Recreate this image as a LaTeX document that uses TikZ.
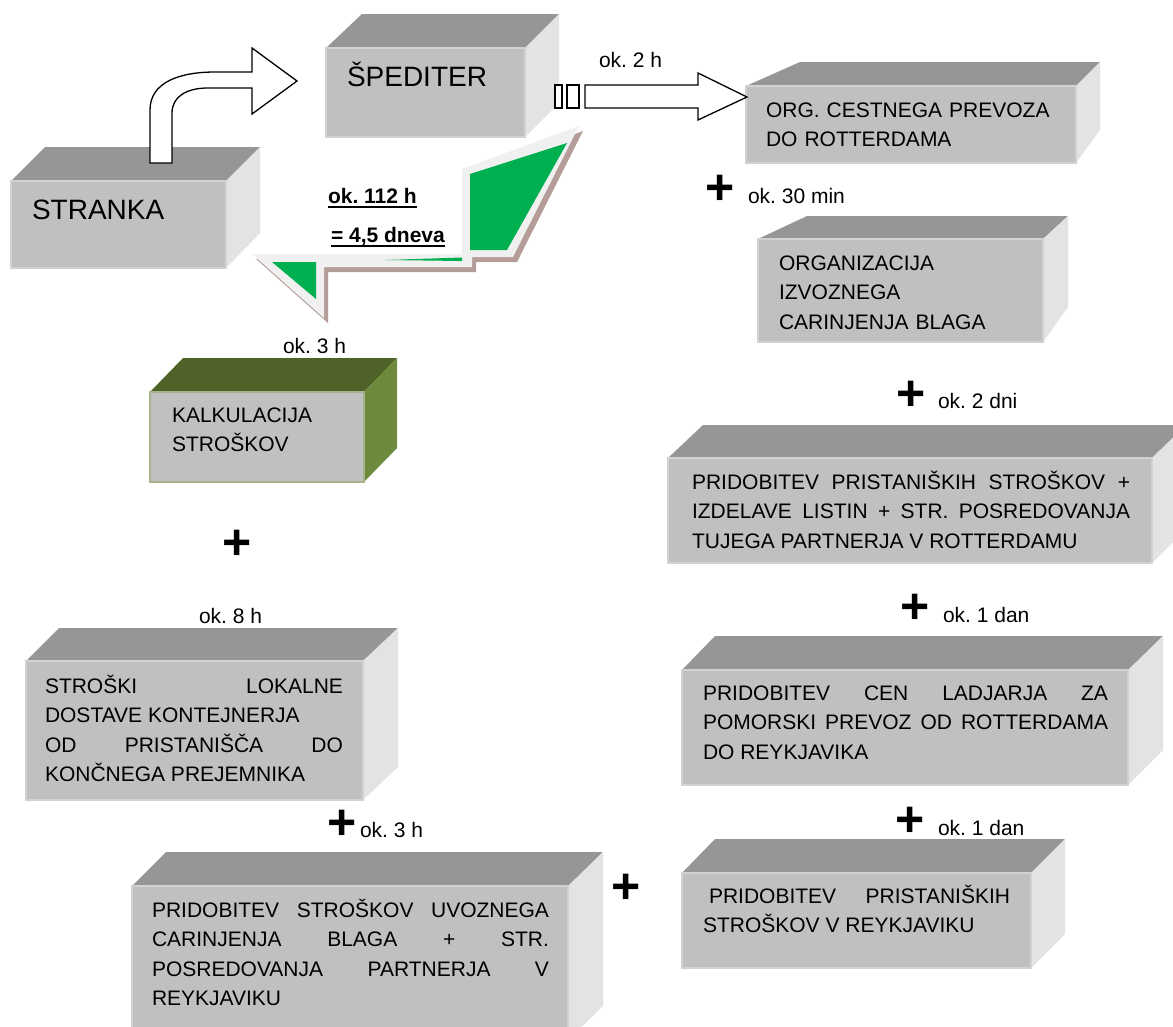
\documentclass[tikz,border=0pt]{standalone}
\usepackage{fontspec}
\setmainfont{Liberation Sans}
\usepackage{xcolor}
\usepackage{tikz}
\usetikzlibrary{calc}
\frenchspacing

\definecolor{boxfront}{HTML}{C0C0C0}
\definecolor{boxtop}{HTML}{969696}
\definecolor{boxside}{HTML}{E3E3E3}
\definecolor{boxedge}{HTML}{D2D2D2}
\definecolor{olivetop}{HTML}{4F6228}
\definecolor{oliveside}{HTML}{6E8B3D}
\definecolor{oliveedge}{HTML}{A4B38C}
\definecolor{boltgreen}{HTML}{00B050}
\definecolor{boltframe}{HTML}{F0F0F0}
\definecolor{boltshadow}{HTML}{B49C98}

% thick underline for the total time
\newcommand{\thickul}[1]{\setbox0=\hbox{#1}\rlap{\rule[-5pt]{\wd0}{2.5pt}}\box0}

% 3-D box: name, front x1, y1, x2, y2, back shift left, back shift right, top dy, bottom dy
\newcommand{\cubebox}[9]{%
    \coordinate (#1-nw) at (#2,#3);
    \coordinate (#1-se) at (#4,#5);
    \coordinate (#1-ne) at (#4,#3);
    \fill[cubetop] (#1-nw) -- ++(#6,#8) -- ($(#1-ne)+(#7,#8)$) -- (#1-ne) -- cycle;
    \fill[cubeside] (#1-ne) -- ++(#7,#8) -- ($(#1-se)+(#7,#9)$) -- (#1-se) -- cycle;
    \filldraw[cubefront] (#1-nw) rectangle (#1-se);
}

\begin{document}
\begin{tikzpicture}[
        x=1pt, y=-1pt, % pixel grid, y grows downwards
        every node/.style={inner sep=0pt, outer sep=0pt},
        cubetop/.style={fill=boxtop},
        cubeside/.style={fill=boxside},
        cubefront/.style={fill=boxfront, draw=boxedge, line width=1.2pt},
        title/.style={anchor=base west, font=\fontsize{28}{32}\selectfont},
        boxtext/.style={anchor=north west, font=\fontsize{21}{29.5}\selectfont,
            execute at begin node=\strut},
        lbl/.style={anchor=base west, font=\fontsize{21}{25}\selectfont},
        total/.style={anchor=base west, font=\fontsize{21}{25}\selectfont\bfseries},
        plus/.style={font=\fontsize{50}{50}\selectfont\bfseries},
        blockarrow/.style={fill=white, draw=black, line width=1.3pt}
    ]
        % Page
        \useasboundingbox (0,0) rectangle (1173,1026);
        \clip (0,0) rectangle (1173,1026);
        \fill[white] (0,0) rectangle (1173,1026);

        % Boxes
        \cubebox{stranka}{11}{181}{226}{268}{34}{34}{-34}{-35}
        \cubebox{sped}{326}{48}{525}{137}{36}{34}{-34}{-34}
        \cubebox{cesta}{746}{86}{1076}{163}{54}{24}{-24}{-33}
        \cubebox{izvoz}{758}{239}{1043}{342}{49}{25}{-23}{-35}
        \cubebox{rott}{668}{458}{1152}{563}{35}{34}{-33}{-34}
        \cubebox{ladjar}{682}{670}{1128}{785}{33}{35}{-34}{-35}
        \cubebox{reyk}{682}{873}{1031}{968}{33}{34}{-34}{-34}
        \cubebox{lokal}{26}{661}{363}{800}{33}{35}{-33}{-33}
        \cubebox{uvoz}{132}{886}{568}{1040}{34}{35}{-34}{-34}
        \begin{scope}[cubetop/.style={fill=olivetop}, cubeside/.style={fill=oliveside},
                cubefront/.style={fill=boxfront, draw=oliveedge, line width=1.5pt}]
            \cubebox{kalk}{150}{392}{364}{482}{33}{33}{-34}{-34}
        \end{scope}

        % Box texts
        \node[title] (stranka-t) at (32,219) {STRANKA};
        \node[title] (sped-t) at (347,86) {ŠPEDITER};
        \node[boxtext, text width=320, align=left] (cesta-t) at (766,96.5)
            {ORG. CESTNEGA PREVOZA\\DO ROTTERDAMA};
        \node[boxtext, text width=250, align=left] (izvoz-t) at (779,249.5)
            {ORGANIZACIJA\\IZVOZNEGA\\CARINJENJA BLAGA};
        \node[boxtext, text width=438, align=justify] (rott-t) at (692,468.5)
            {PRIDOBITEV PRISTANIŠKIH STROŠKOV +\linebreak
             IZDELAVE LISTIN + STR. POSREDOVANJA\linebreak
             TUJEGA PARTNERJA V ROTTERDAMU};
        \node[boxtext, text width=405, align=justify] (ladjar-t) at (703,679.5)
            {PRIDOBITEV CEN LADJARJA ZA\linebreak
             POMORSKI PREVOZ OD ROTTERDAMA\linebreak
             DO REYKJAVIKA};
        \node[boxtext, text width=307, align=justify] (reyk-t) at (703,882.5)
            {\hspace*{6pt}PRIDOBITEV PRISTANIŠKIH\linebreak
             STROŠKOV V REYKJAVIKU};
        \node[boxtext, text width=190, align=left] (kalk-t) at (172,401.5)
            {KALKULACIJA\\STROŠKOV};
        \node[boxtext, text width=298, align=justify] (lokal-t) at (45,672.5)
            {STROŠKI LOKALNE\linebreak
             DOSTAVE KONTEJNERJA\\
             OD PRISTANIŠČA DO\linebreak
             KONČNEGA PREJEMNIKA};
        \node[boxtext, text width=397, align=justify] (uvoz-t) at (152,896.5)
            {PRIDOBITEV STROŠKOV UVOZNEGA\linebreak
             CARINJENJA BLAGA + STR.\linebreak
             POSREDOVANJA PARTNERJA V\linebreak
             REYKJAVIKU};

        % Client to forwarder
        \filldraw[blockarrow] (150,163) -- (150,110) .. controls (150,82) and (180,72) .. (215,72)
            -- (252,72) -- (252,48) -- (297,81) -- (252,114) -- (252,88) -- (208,88)
            .. controls (186,88) and (172,97) .. (172,113) -- (172,163) -- cycle;

        % Forwarder to road transport
        \filldraw[blockarrow] (555,85) rectangle (562,108);
        \filldraw[blockarrow] (567,85) rectangle (579,108);
        \filldraw[blockarrow] (585,85) -- (698,85) -- (698,73) -- (747,97) -- (698,120)
            -- (698,108) -- (585,108) -- cycle;

        % Lightning back to the calculation
        \fill[boltshadow, shift={(4,5)}] (579,126) -- (513,257) -- (472,257) -- (472,267)
            -- (324,267) -- (324,318) -- (252,254) -- (462,254) -- (462,169) -- cycle;
        \fill[boltframe] (579,126) -- (513,257) -- (472,257) -- (472,267)
            -- (324,267) -- (324,318) -- (252,254) -- (462,254) -- (462,169) -- cycle;
        \fill[boltgreen] (470,174) -- (567,143) -- (507,250) -- (470,250) -- cycle;
        \fill[boltgreen] (272,262) -- (316,262) -- (316,299) -- cycle;
        \fill[boltgreen] (385,260) -- (462,257.5) -- (462,261) -- cycle;

        % Times
        \node[total] (sum-h) at (328,203) {\thickul{ok. 112 h}};
        \node[total] (sum-d) at (331,242) {\thickul{= 4,5 dneva}};
        \node[lbl] (t-cesta) at (599,67) {ok. 2 h};
        \node[lbl] (t-izvoz) at (748,203) {ok. 30 min};
        \node[lbl] (t-rott) at (938,408) {ok. 2 dni};
        \node[lbl] (t-ladjar) at (943,622) {ok. 1 dan};
        \node[lbl] (t-reyk) at (938,835) {ok. 1 dan};
        \node[lbl] (t-kalk) at (283,353) {ok. 3 h};
        \node[lbl] (t-lokal) at (199,623) {ok. 8 h};
        \node[lbl] (t-uvoz) at (360,837) {ok. 3 h};

        % Plus signs
        \node[plus] (p-izvoz) at (720,190) {+};
        \node[plus] (p-rott) at (911,396) {+};
        \node[plus] (p-ladjar) at (915,609) {+};
        \node[plus] (p-reyk) at (910,822) {+};
        \node[plus] (p-kalk) at (237,545) {+};
        \node[plus] (p-uvoz) at (342,825) {+};
        \node[plus] (p-mid) at (626,889) {+};

    \end{tikzpicture}
\end{document}
